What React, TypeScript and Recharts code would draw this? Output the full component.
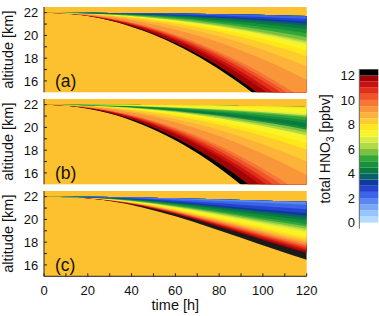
import React from 'react';
import { ComposedChart, Area, XAxis, YAxis, CartesianGrid } from 'recharts';

const FONT = '"Liberation Sans", Arial, Helvetica, sans-serif';
const BG = '#FDC02E';
const INK = '#222';

const TIMES = [0, 15, 30, 45, 60, 75, 90, 105, 120];
const X_TICKS = [0, 10, 20, 30, 40, 50, 60, 70, 80, 90, 100, 110, 120];
const Y_TICKS = [16, 17, 18, 19, 20, 21, 22];
const CB_TICKS = [0, 2, 4, 6, 8, 10, 12];

// Panel (a): contour boundaries (altitude in km at TIMES), from plume top downward
const A_BOUNDS = [
  [22, 22.0, 21.98, 21.96, 21.93, 21.89, 21.84, 21.78, 21.71],
  [22, 21.99, 21.97, 21.92, 21.86, 21.79, 21.69, 21.58, 21.45],
  [22, 21.99, 21.95, 21.89, 21.8, 21.69, 21.55, 21.39, 21.2],
  [22, 21.99, 21.94, 21.87, 21.77, 21.63, 21.47, 21.28, 21.06],
  [22, 21.98, 21.93, 21.84, 21.71, 21.55, 21.35, 21.12, 20.85],
  [22, 21.98, 21.91, 21.8, 21.64, 21.43, 21.18, 20.89, 20.55],
  [22, 21.97, 21.89, 21.75, 21.55, 21.3, 20.99, 20.62, 20.2],
  [22, 21.97, 21.87, 21.7, 21.46, 21.16, 20.79, 20.35, 19.85],
  [22, 21.96, 21.84, 21.65, 21.38, 21.02, 20.59, 20.09, 19.5],
  [22, 21.96, 21.83, 21.63, 21.34, 20.97, 20.51, 19.97, 19.35],
  [22, 21.96, 21.83, 21.61, 21.3, 20.91, 20.43, 19.86, 19.2],
  [22, 21.95, 21.79, 21.54, 21.18, 20.71, 20.14, 19.47, 18.7],
  [22, 21.94, 21.76, 21.47, 21.05, 20.52, 19.86, 19.09, 18.2],
  [22, 21.93, 21.71, 21.34, 20.83, 20.16, 19.36, 18.4, 17.3],
  [22, 21.91, 21.63, 21.17, 20.53, 19.7, 18.68, 17.48, 16.1],
  [22, 21.88, 21.52, 20.91, 20.06, 18.97, 17.64, 16.07, 14.25],
  [22, 21.87, 21.49, 20.85, 19.95, 18.8, 17.39, 15.72, 13.8],
  [22, 21.87, 21.46, 20.79, 19.84, 18.63, 17.14, 15.39, 13.36],
  [22, 21.86, 21.43, 20.71, 19.7, 18.41, 16.83, 14.96, 12.8],
  [22, 21.85, 21.39, 20.63, 19.57, 18.2, 16.52, 14.54, 12.26],
  [22, 21.84, 21.34, 20.5, 19.33, 17.83, 15.99, 13.82, 11.3],
  [22, 21.83, 21.31, 20.43, 19.2, 17.62, 15.7, 13.45, 10.85],
];
const A_COLORS = [
  '#3C64E8', '#2444D0', '#0E3AA0', '#0A6068', '#0A7A40', '#18903A', '#30A838',
  '#7CC040', '#B0D848', '#D8EC48', '#F8F428', '#FFE818', '#FFCC30', '#FDB23A',
  '#FA963A', '#F6763A', '#F05428', '#E03018', '#C81010', '#A00404', '#000000',
];

// Panel (b)
const B_BOUNDS = [
  [22, 22.0, 21.99, 21.97, 21.95, 21.92, 21.89, 21.85, 21.8],
  [22, 21.99, 21.98, 21.95, 21.91, 21.86, 21.8, 21.73, 21.65],
  [22, 21.99, 21.95, 21.89, 21.8, 21.69, 21.55, 21.39, 21.2],
  [22, 21.99, 21.94, 21.87, 21.76, 21.63, 21.47, 21.27, 21.05],
  [22, 21.98, 21.93, 21.85, 21.73, 21.57, 21.38, 21.16, 20.9],
  [22, 21.98, 21.92, 21.81, 21.66, 21.47, 21.24, 20.97, 20.65],
  [22, 21.98, 21.9, 21.78, 21.6, 21.38, 21.1, 20.78, 20.4],
  [22, 21.97, 21.88, 21.72, 21.5, 21.22, 20.88, 20.47, 20.0],
  [22, 21.97, 21.86, 21.69, 21.45, 21.14, 20.76, 20.32, 19.8],
  [22, 21.96, 21.85, 21.66, 21.39, 21.04, 20.62, 20.12, 19.55],
  [22, 21.96, 21.83, 21.62, 21.33, 20.95, 20.48, 19.93, 19.3],
  [22, 21.95, 21.79, 21.52, 21.15, 20.67, 20.09, 19.4, 18.6],
  [22, 21.94, 21.75, 21.44, 21.01, 20.46, 19.78, 18.98, 18.05],
  [22, 21.92, 21.69, 21.3, 20.75, 20.05, 19.19, 18.17, 17.0],
  [22, 21.9, 21.61, 21.13, 20.45, 19.58, 18.51, 17.25, 15.8],
  [22, 21.87, 21.49, 20.86, 19.98, 18.84, 17.44, 15.8, 13.9],
  [22, 21.87, 21.46, 20.79, 19.85, 18.64, 17.16, 15.42, 13.4],
  [22, 21.86, 21.43, 20.71, 19.7, 18.41, 16.83, 14.96, 12.8],
  [22, 21.85, 21.39, 20.62, 19.55, 18.17, 16.49, 14.5, 12.2],
  [22, 21.84, 21.35, 20.54, 19.41, 17.96, 16.18, 14.08, 11.65],
  [22, 21.82, 21.28, 20.37, 19.1, 17.47, 15.48, 13.12, 10.4],
  [22, 21.8, 21.22, 20.24, 18.88, 17.12, 14.97, 12.43, 9.5],
];
const B_COLORS = [
  '#FFE818', '#F8F428', '#D8EC48', '#7CC040', '#30A838', '#18903A', '#0A7A40',
  '#18903A', '#7CC040', '#B0D848', '#F8F428', '#FFE818', '#FFCC30', '#FDB23A',
  '#FA963A', '#F6763A', '#F05428', '#E03018', '#C81010', '#A00404', '#000000',
];

// Panel (c)
const C_BOUNDS = [
  [22, 21.99, 21.97, 21.93, 21.86, 21.79, 21.71, 21.63, 21.56],
  [22, 21.99, 21.95, 21.88, 21.78, 21.67, 21.55, 21.42, 21.3],
  [22, 21.98, 21.92, 21.81, 21.66, 21.48, 21.29, 21.09, 20.9],
  [22, 21.98, 21.9, 21.75, 21.55, 21.31, 21.06, 20.8, 20.55],
  [22, 21.97, 21.88, 21.72, 21.48, 21.21, 20.91, 20.61, 20.33],
  [22, 21.97, 21.87, 21.69, 21.43, 21.12, 20.8, 20.46, 20.15],
  [22, 21.97, 21.85, 21.64, 21.35, 21.0, 20.64, 20.26, 19.9],
  [22, 21.96, 21.83, 21.59, 21.26, 20.86, 20.44, 20.01, 19.6],
  [22, 21.96, 21.82, 21.56, 21.19, 20.77, 20.31, 19.84, 19.4],
  [22, 21.96, 21.8, 21.52, 21.13, 20.67, 20.18, 19.68, 19.2],
  [22, 21.96, 21.79, 21.5, 21.09, 20.6, 20.08, 19.55, 19.05],
  [22, 21.95, 21.78, 21.47, 21.04, 20.53, 19.99, 19.43, 18.9],
  [22, 21.95, 21.76, 21.41, 20.92, 20.34, 19.73, 19.1, 18.5],
  [22, 21.94, 21.74, 21.37, 20.85, 20.24, 19.6, 18.93, 18.3],
  [22, 21.94, 21.73, 21.34, 20.79, 20.15, 19.47, 18.76, 18.1],
  [22, 21.94, 21.72, 21.31, 20.74, 20.08, 19.37, 18.64, 17.95],
  [22, 21.94, 21.71, 21.29, 20.7, 20.0, 19.27, 18.51, 17.8],
  [22, 21.93, 21.7, 21.26, 20.65, 19.93, 19.17, 18.39, 17.65],
  [22, 21.93, 21.69, 21.24, 20.6, 19.86, 19.08, 18.27, 17.5],
  [22, 21.93, 21.67, 21.21, 20.56, 19.79, 18.98, 18.14, 17.35],
  [22, 21.93, 21.66, 21.18, 20.51, 19.72, 18.88, 18.02, 17.2],
  [22, 21.93, 21.65, 21.16, 20.47, 19.65, 18.78, 17.89, 17.05],
  [22, 21.92, 21.61, 21.06, 20.28, 19.36, 18.39, 17.39, 16.45],
];
const C_COLORS = [
  '#5A86F2', '#3C64E8', '#2444D0', '#0E3AA0', '#0A6068', '#0A7A40', '#18903A',
  '#30A838', '#7CC040', '#B0D848', '#D8EC48', '#F8F428', '#FFE818', '#FFCC30',
  '#FDB23A', '#FA963A', '#F6763A', '#F05428', '#E03018', '#C81010', '#A00404',
  '#1A1A1A',
];

// Colour bar levels (lower edge of each 0.5 ppbv step) and colours
const CB_LOWS = [
  -0.5, 0, 0.5, 1, 1.5, 2, 2.5, 3, 3.5, 4, 4.5, 5, 5.5,
  6, 6.5, 7, 7.5, 8, 8.5, 9, 9.5, 10, 10.5, 11, 11.5, 12,
];
const CB_STEP = 0.5;
const CB_COLORS = [
  '#FFFFFF', '#B4DCFF', '#96C4FF', '#7AA6F8', '#5A86F2', '#3C64E8', '#2444D0',
  '#0E3AA0', '#0A6068', '#0A7A40', '#18903A', '#30A838', '#7CC040', '#B0D848',
  '#D8EC48', '#F8F428', '#FFE818', '#FFCC30', '#FDB23A', '#FA963A', '#F6763A',
  '#F05428', '#E03018', '#C81010', '#A00404', '#000000',
];

function buildRows(bounds: number[][]) {
  return TIMES.map((t, k) => {
    const row: any = { t };
    for (let i = 0; i < bounds.length - 1; i++) {
      row['r' + i] = [bounds[i + 1][k], bounds[0][k]];
    }
    return row;
  });
}

const tickStyle = { fontSize: 13, fill: '#111', fontFamily: FONT };

function Panel(props: { bounds: number[][]; colors: string[]; top: number; showX: boolean; tag: string }) {
  const { bounds, colors, top, showX, tag } = props;
  const rows = buildRows(bounds);
  const order = colors.map((_, i) => i).reverse();
  const height = showX ? 132 : 100;
  return (
    <div style={{ position: 'absolute', left: 0, top, width: 379, height }}>
      <ComposedChart
        width={379}
        height={height}
        data={rows}
        margin={{ top: 7, right: 72.3, bottom: showX ? 0 : 7.7, left: 0 }}
      >
        <CartesianGrid xAxisId="b" yAxisId="l" fill={BG} fillOpacity={1} stroke="none" horizontal={false} vertical={false} />
        <XAxis
          xAxisId="b"
          dataKey="t"
          type="number"
          domain={[0, 120]}
          ticks={X_TICKS}
          interval={0}
          allowDataOverflow
          height={showX ? 39.7 : 0}
          tickSize={-3}
          tickMargin={12.5}
          tick={showX ? tickStyle : false}
          tickFormatter={(v: number) => (v % 20 === 0 ? String(v) : '')}
          axisLine={{ stroke: INK }}
          tickLine={{ stroke: INK }}
          label={showX ? { value: 'time [h]', position: 'insideBottom', offset: 6.5, style: { fontSize: 14.5, fill: '#111', fontFamily: FONT } } : undefined}
        />
        <XAxis
          xAxisId="t"
          orientation="top"
          dataKey="t"
          type="number"
          domain={[0, 120]}
          ticks={X_TICKS}
          interval={0}
          allowDataOverflow
          height={0}
          tickSize={-3}
          tick={false}
          axisLine={{ stroke: INK }}
          tickLine={{ stroke: INK }}
        />
        <YAxis
          yAxisId="l"
          type="number"
          domain={[15, 22.5]}
          ticks={Y_TICKS}
          interval={0}
          allowDataOverflow
          width={44}
          tickSize={-3}
          tickMargin={8.7}
          tick={tickStyle}
          tickFormatter={(v: number) => (v % 2 === 0 ? String(v) : '')}
          axisLine={{ stroke: INK }}
          tickLine={{ stroke: INK }}
          label={{ value: 'altitude [km]', angle: -90, position: 'insideLeft', offset: 7.5, style: { textAnchor: 'middle', fontSize: 14.5, fill: '#111', fontFamily: FONT } }}
        />
        <YAxis
          yAxisId="r"
          orientation="right"
          type="number"
          domain={[15, 22.5]}
          ticks={Y_TICKS}
          interval={0}
          allowDataOverflow
          width={0}
          tickSize={-3}
          tick={false}
          axisLine={{ stroke: INK }}
          tickLine={{ stroke: INK }}
        />
        {order.map((i) => (
          <Area
            key={i}
            xAxisId="b"
            yAxisId="l"
            dataKey={'r' + i}
            type="monotone"
            fill={colors[i]}
            fillOpacity={1}
            stroke="none"
            dot={false}
            activeDot={false}
            isAnimationActive={false}
          />
        ))}
      </ComposedChart>
      <div
        style={{
          position: 'absolute',
          left: 55,
          top: 72.8,
          fontSize: 17.5,
          lineHeight: 1,
          color: '#111',
          fontFamily: FONT,
          whiteSpace: 'nowrap',
        }}
      >
        {tag}
      </div>
    </div>
  );
}

function ColorBar() {
  const rows = [0, 1].map((x) => {
    const row: any = { x };
    CB_LOWS.forEach((lo, i) => {
      row['c' + i] = [lo, lo + CB_STEP];
    });
    return row;
  });
  return (
    <div style={{ position: 'absolute', left: 300, top: 60, width: 79, height: 180 }}>
      <ComposedChart width={79} height={180} data={rows} margin={{ top: 9.3, right: 0.7, bottom: 11.3, left: 0 }}>
        <XAxis
          dataKey="x"
          type="number"
          domain={[0, 1]}
          ticks={[0, 1]}
          height={0}
          tick={false}
          tickLine={false}
          axisLine={{ stroke: '#666' }}
        />
        <YAxis
          type="number"
          domain={[-0.5, 12.5]}
          ticks={CB_TICKS}
          interval={0}
          width={59.3}
          tickSize={0}
          tickMargin={4.3}
          tickLine={false}
          axisLine={{ stroke: '#666' }}
          tick={tickStyle}
        />
        {CB_LOWS.map((_, i) => (
          <Area
            key={i}
            dataKey={'c' + i}
            type="linear"
            fill={CB_COLORS[i]}
            fillOpacity={1}
            stroke="none"
            dot={false}
            activeDot={false}
            isAnimationActive={false}
          />
        ))}
      </ComposedChart>
    </div>
  );
}

export default function App() {
  return (
    <div style={{ position: 'absolute', left: 0, top: 0, width: 379, height: 316, background: '#fff', fontFamily: FONT }}>
      <Panel bounds={A_BOUNDS} colors={A_COLORS} top={0} showX={false} tag="(a)" />
      <Panel bounds={B_BOUNDS} colors={B_COLORS} top={92} showX={false} tag="(b)" />
      <Panel bounds={C_BOUNDS} colors={C_COLORS} top={184} showX={true} tag="(c)" />
      <ColorBar />
      <div
        style={{
          position: 'absolute',
          left: 325,
          top: 149,
          transform: 'translate(-50%, -50%) rotate(-90deg)',
          fontSize: 14,
          lineHeight: 1,
          color: '#111',
          fontFamily: FONT,
          whiteSpace: 'nowrap',
        }}
      >
        total HNO<sub style={{ fontSize: 10, verticalAlign: 'sub', lineHeight: 0 }}>3</sub> [ppbv]
      </div>
    </div>
  );
}
